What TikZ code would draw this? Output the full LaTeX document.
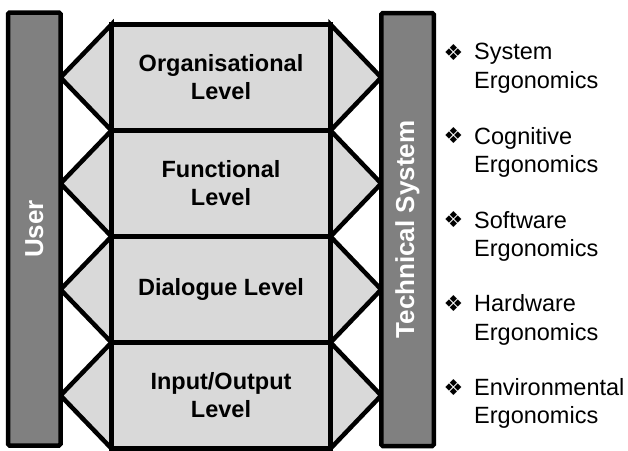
\documentclass[tikz,border=0pt]{standalone}
\usepackage{fontspec}
\setmainfont{Liberation Sans}
\newfontfamily\symfont{DejaVu Sans}
\usetikzlibrary{calc,backgrounds}
\definecolor{lvlgray}{HTML}{D9D9D9}
\definecolor{bargray}{HTML}{808080}
\begin{document}
\begin{tikzpicture}[x=1pt,y=-1pt,
  lw/.style={line width=4.5pt},
  levelbox/.style={draw, lw, fill=lvlgray, minimum width=219pt, minimum height=106pt,
    align=center, font=\fontsize{23.5}{28}\selectfont\bfseries, inner sep=0pt, outer sep=0pt},
  sidebar/.style={draw, lw, fill=bargray, rounded corners=1.5pt, rotate=90,
    minimum width=433pt, minimum height=52.5pt, text=white,
    font=\fontsize{26}{30}\selectfont\bfseries, inner sep=0pt, outer sep=0pt},
  wedge/.style={draw, lw, fill=lvlgray, line join=miter},
  item/.style={anchor=north west, align=left, inner sep=0pt,
    font=\fontsize{23.5}{28.3}\selectfont},
  bul/.style={inner sep=0pt, font=\symfont\fontsize{22}{22}\selectfont}
]
\useasboundingbox (0,0) rectangle (628,450);

% levels
\node[levelbox] (l1) at (221,77.5)  {Organisational\\Level};
\node[levelbox] (l2) at (221,183.5) {Functional\\Level};
\node[levelbox] (l3) at (221,289.5) {Dialogue Level};
\node[levelbox] (l4) at (221,395.5) {Input/Output\\Level};

% side bars
\node[sidebar] (user) at (34.25,229) {User};
\node[sidebar] (tech) at (407.5,229.5) {Technical System};

% wedges (behind)
\begin{scope}[on background layer]
\foreach \l in {l1,l2,l3,l4}{
  \draw[wedge] (\l.north west) -- (user.south |- \l.west) -- (\l.south west) -- cycle;
  \draw[wedge] (\l.north east) -- (tech.north |- \l.east) -- (\l.south east) -- cycle;
}
\end{scope}

% ergonomics list
\node[item] (e1) at (474,43.3)  {System\\Ergonomics};
\node[item] (e2) at (474,127)   {Cognitive\\Ergonomics};
\node[item] (e3) at (474,210.8) {Software\\Ergonomics};
\node[item] (e4) at (474,294.5) {Hardware\\Ergonomics};
\node[item] (e5) at (474,378.3) {Environmental\\Ergonomics};
\foreach \e in {e1,e2,e3,e4,e5}{
  \node[bul] (b\e) at ($(\e.north west)+(-20.5,9)$) {❖};
}
\end{tikzpicture}
\end{document}
